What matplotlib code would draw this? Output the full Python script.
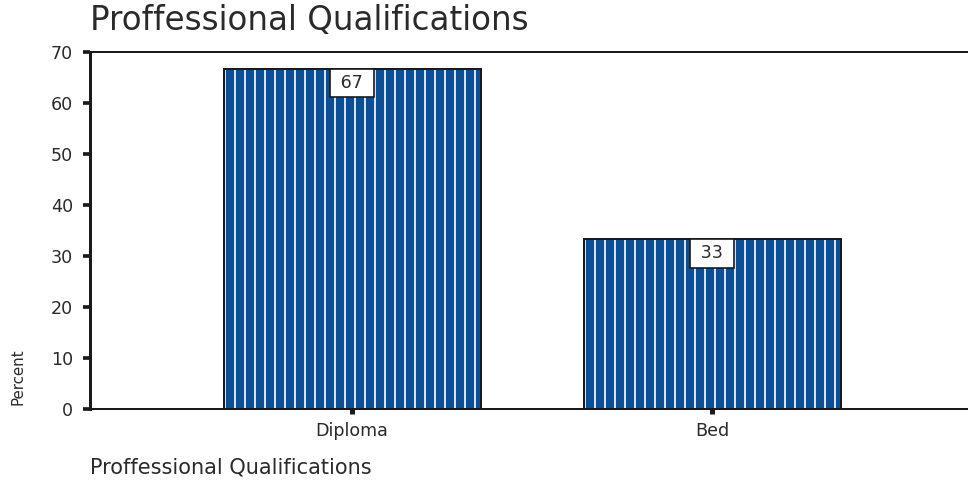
import matplotlib.pyplot as plt
import numpy as np

# data
categories = ['Diploma', 'Bed']
percent = [66.7, 33.3]
bar_labels = ['67', '33']
yticks = [0, 10, 20, 30, 40, 50, 60, 70]

plt.rcParams['font.family'] = ['DejaVu Sans']
plt.rcParams['hatch.linewidth'] = 1.0

blue = '#0b4f96'
dark = '#1a1a1a'
txt = '#2a2a2a'

fig = plt.figure(figsize=(968/120, 480/120), dpi=120)
ax = fig.add_axes([90/968, 71/480, 1.0 - 90/968, 357/480])

x = np.arange(len(categories))
# filled bars with white vertical stripes, then outline on top
ax.bar(x, percent, width=0.714, color=blue, edgecolor='white', hatch='||', linewidth=0, zorder=2)
ax.bar(x, percent, width=0.714, fill=False, edgecolor=dark, linewidth=1.2, zorder=3)

for xi, v, lab in zip(x, percent, bar_labels):
    ax.annotate(' ' + lab + ' ', (xi, v), xytext=(0, -8.5), textcoords='offset points',
                ha='center', va='center', fontsize=10.5, color=txt,
                bbox=dict(boxstyle='square,pad=0.3', fc='white', ec=dark, lw=1.0),
                zorder=4)

ax.set_xlim(-0.728, 1.711)
ax.set_ylim(0, 70)
ax.set_yticks(yticks)
ax.set_xticks(x)
ax.set_xticklabels(categories, fontsize=10.5, color=txt)
ax.tick_params(axis='y', labelsize=10.5, labelcolor=txt, direction='out', length=4, width=2.2, color=dark, pad=6)
ax.tick_params(axis='x', direction='out', length=3, width=3, color=dark, pad=5)

ax.spines['right'].set_visible(False)
for s in ['left', 'bottom', 'top']:
    ax.spines[s].set_color(dark)
    ax.spines[s].set_linewidth(1.2)
ax.spines['left'].set_linewidth(1.8)

fig.text(90/968, 1 - 21/480, 'Proffessional Qualifications', fontsize=19.5, color=txt, ha='left', va='center')
fig.text(90/968, 1 - 468/480, 'Proffessional Qualifications', fontsize=12.5, color=txt, ha='left', va='center')
fig.text(18/968, 1 - 377/480, 'Percent', fontsize=9, color=txt, rotation=90, ha='center', va='center')

fig.savefig('out.png', dpi=120)
